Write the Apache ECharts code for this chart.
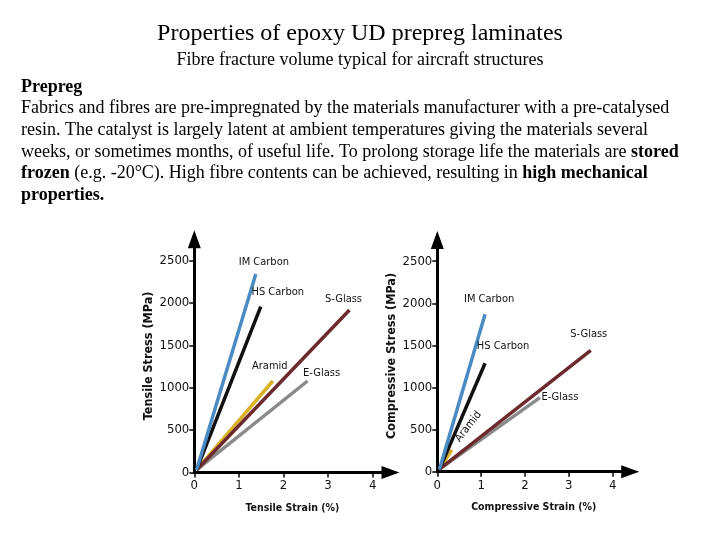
<!DOCTYPE html>
<html>
<head>
<meta charset="utf-8">
<script src="https://cdn.jsdelivr.net/npm/echarts@6/dist/echarts.min.js"></script>
<style>html,body{margin:0;padding:0;background:#fff;}#c{width:720px;height:540px;}</style>
</head>
<body>
<div id="c"></div>
<script>
// ---- data ----
const seriesNames = ['IM Carbon', 'HS Carbon', 'S-Glass', 'Aramid', 'E-Glass'];
const seriesColors = ['#4a8bc3', '#111111', '#6d2a2e', '#d8b128', '#8a8a8a'];
const startStrain = [0.05, 0.05, 0.05, 0.05, 0.05];
const startStress = [30, 30, 30, 30, 30];
const tensileStrainEnd = [1.38, 1.49, 3.48, 1.76, 2.54];
const tensileStressEnd = [2341, 1955, 1916, 1079, 1079];
const compStrainEnd = [1.09, 1.09, 3.50, 0.33, 2.34];
const compStressEnd = [1869, 1287, 1440, 258, 879];
const strainTicks = [0, 1, 2, 3, 4];
const stressTicks = [0, 500, 1000, 1500, 2000, 2500];

const titleText = 'Properties of epoxy UD prepreg laminates';
const subtitleText = 'Fibre fracture volume typical for aircraft structures';
const paraLines = [
  '{b|Prepreg}',
  'Fabrics and fibres are pre-impregnated by the materials manufacturer with a pre-catalysed',
  'resin. The catalyst is largely latent at ambient temperatures giving the materials several',
  'weeks, or sometimes months, of useful life. To prolong storage life the materials are {b|stored}',
  '{b|frozen} (e.g. -20°C). High fibre contents can be achieved, resulting in {b|high mechanical}',
  '{b|properties.}'
];

// label offsets (style only)
const tensileLabelOffset = [[8, -12], [17, -15], [-6, -11], [-3, -15], [14, -8]];
const compLabelOffset = [[4, -15], [18, -17], [-2, -16], [28.6, -1.3], [20, -1]];
const compLabelRotate = [0, 0, 0, 52, 0];

const narrow = '"Liberation Sans Narrow","DejaVu Sans Condensed","Roboto Condensed","Arial Narrow",Roboto,sans-serif';
const serif = '"Liberation Serif","Times New Roman",serif';

function makeAxes(gridIndex, xName, yName, yNameGap) {
  const common = {
    gridIndex: gridIndex,
    type: 'value',
    min: 0,
    splitLine: { show: false },
    axisLine: { show: true, onZero: false, symbol: ['none', 'triangle'], symbolSize: [13, 18],
      lineStyle: { color: '#000', width: 3 } },
    axisTick: { show: true, length: 5, lineStyle: { color: '#000', width: 1.5 } },
    axisLabel: { color: '#111', fontFamily: narrow, fontSize: 13 },
    nameLocation: 'middle',
    nameTextStyle: { color: '#111', fontFamily: narrow, fontSize: 12.5, fontWeight: 'bold' }
  };
  const x = Object.assign({}, JSON.parse(JSON.stringify(common)), {
    max: 4.4, name: xName, nameGap: 30
  });
  x.axisTick.customValues = strainTicks;
  x.axisLabel.customValues = strainTicks;
  x.axisLabel.margin = 7;
  x.axisLabel.formatter = function (v) { return String(v); };
  x.nameTextStyle.fontSize = 10.5;
  const y = Object.assign({}, JSON.parse(JSON.stringify(common)), {
    max: 2750, name: yName, nameGap: yNameGap
  });
  y.axisTick.customValues = stressTicks;
  y.axisLabel.customValues = stressTicks;
  y.axisLabel.margin = 5;
  y.axisLabel.formatter = function (v) { return String(v); };
  return { x: x, y: y };
}

const a0 = makeAxes(0, 'Tensile Strain (%)', 'Tensile Stress (MPa)', 36);
const a1 = makeAxes(1, 'Compressive Strain (%)', 'Compressive Stress (MPa)', 35);

function buildSeries(axisIdx, endX, endY, offsets, rotates) {
  const order = [4, 3, 2, 1, 0];
  return order.map(function (i) {
    return {
      type: 'line',
      name: seriesNames[i],
      xAxisIndex: axisIdx,
      yAxisIndex: axisIdx,
      data: [[startStrain[i], startStress[i]], [endX[i], endY[i]]],
      showSymbol: true,
      symbol: 'circle',
      symbolSize: 0,
      animation: false,
      silent: true,
      lineStyle: { color: seriesColors[i], width: 3.5 },
      itemStyle: { color: seriesColors[i] },
      label: {
        show: true,
        position: 'inside',
        offset: offsets[i],
        rotate: rotates ? rotates[i] : 0,
        color: '#111',
        fontFamily: narrow,
        fontSize: 11,
        formatter: function (p) { return p.dataIndex === 1 ? seriesNames[i] : ''; }
      },
      z: 3
    };
  });
}

const graphics = [
  { type: 'text', left: 'center', top: 22, style: { text: titleText, font: '24px ' + serif, fill: '#000' } },
  { type: 'text', left: 'center', top: 51, style: { text: subtitleText, font: '18px ' + serif, fill: '#000' } }
];
const lineY = [87, 108, 130, 152, 173.5, 195];
paraLines.forEach(function (t, k) {
  graphics.push({
    type: 'text', x: 21, y: lineY[k],
    style: {
      text: t, fill: '#000', fontFamily: serif, fontSize: 18,
      verticalAlign: 'middle', align: 'left',
      rich: { b: { fontFamily: serif, fontSize: 18, fontWeight: 'bold', fill: '#000' } }
    }
  });
});

const chart = echarts.init(document.getElementById('c'), null, { renderer: 'canvas' });
chart.setOption({
  backgroundColor: '#fff',
  animation: false,
  graphic: graphics,
  grid: [
    { left: 194.3, top: 239.3, width: 196.2, height: 233.2 },
    { left: 437.3, top: 240.1, width: 192.9, height: 231.6 }
  ],
  xAxis: [a0.x, a1.x],
  yAxis: [a0.y, a1.y],
  series: buildSeries(0, tensileStrainEnd, tensileStressEnd, tensileLabelOffset, null)
    .concat(buildSeries(1, compStrainEnd, compStressEnd, compLabelOffset, compLabelRotate))
});
</script>
</body>
</html>
